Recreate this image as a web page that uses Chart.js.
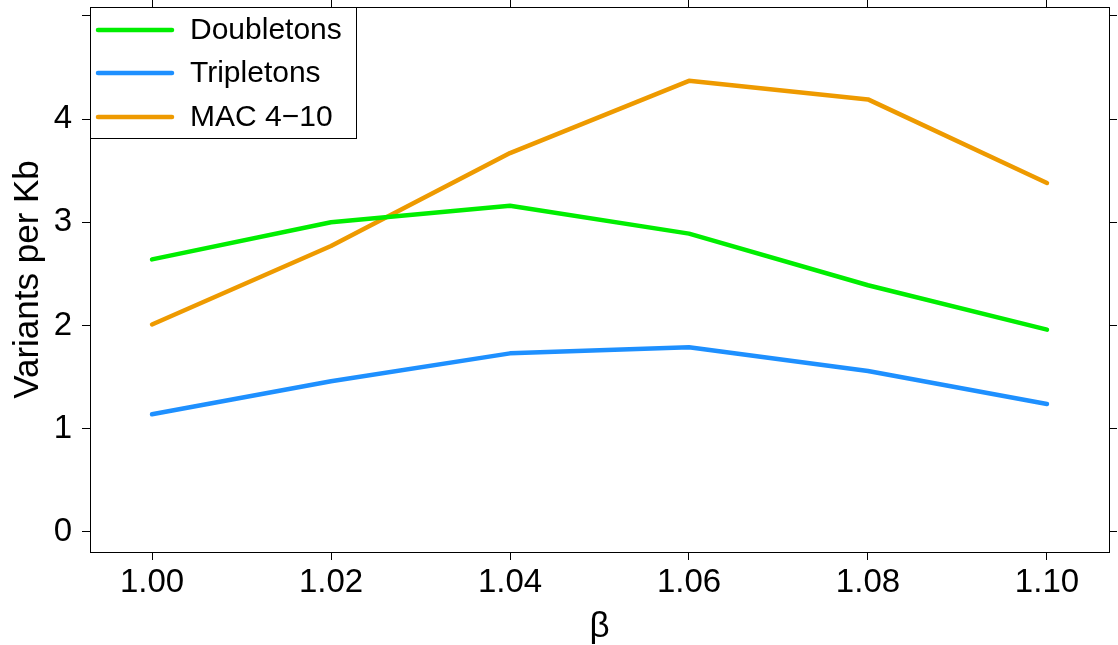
<!DOCTYPE html>
<html>
<head>
<meta charset="utf-8">
<script src="https://cdn.jsdelivr.net/npm/chart.js@4"></script>
<style>
  html, body { margin: 0; padding: 0; background: #fff; }
  #wrap { width: 1118px; height: 645px; }
</style>
</head>
<body>
<div id="wrap"><canvas id="chart" width="1118" height="645"></canvas></div>
<script>
// values
const betaValues = [1.00, 1.02, 1.04, 1.06, 1.08, 1.10];
const doubletons = [2.64, 3.00, 3.16, 2.89, 2.39, 1.96];
const tripletons = [1.14, 1.46, 1.73, 1.79, 1.56, 1.24];
const mac4to10 = [2.01, 2.77, 3.67, 4.37, 4.19, 3.38];
const yTickValues = [0, 1, 2, 3, 4, 5];
const yLabelled = [0, 1, 2, 3, 4];
const seriesNames = ["Doubletons", "Tripletons", "MAC 4\u221210"];
const seriesColors = ["#00EE00", "#1E90FF", "#EE9A00"];

const FONT = "'Liberation Sans', Arial, Helvetica, sans-serif";

function toPoints(values) {
  return betaValues.map((b, i) => ({ x: b, y: values[i] }));
}

function fixTicks(values) {
  return (scale) => {
    scale.ticks = values.map((v) => ({ value: v }));
  };
}

// fixed box sizes so the plot area lands where the reference has it
function fixSize(w, h) {
  return (s) => {
    if (w !== null) s.width = w;
    if (h !== null) s.height = h;
    s.paddingTop = 0;
    s.paddingBottom = 0;
    s.paddingLeft = 0;
    s.paddingRight = 0;
  };
}

// draws the boxed legend in the top-left corner of the plot
const boxLegend = {
  id: "boxLegend",
  afterDraw(chart) {
    const ctx = chart.ctx;
    const area = chart.chartArea;
    const rowY = [30, 73, 117];
    ctx.save();
    ctx.fillStyle = "#fff";
    ctx.fillRect(area.left, area.top, 266, 132);
    ctx.strokeStyle = "#000";
    ctx.lineWidth = 1;
    ctx.strokeRect(area.left + 0.5, area.top + 0.5, 266, 131);
    ctx.font = "30px " + FONT;
    ctx.textBaseline = "middle";
    ctx.textAlign = "left";
    chart.data.datasets.forEach((ds, i) => {
      ctx.strokeStyle = ds.borderColor;
      ctx.lineWidth = 4.5;
      ctx.lineCap = "round";
      ctx.beginPath();
      ctx.moveTo(area.left + 8, rowY[i]);
      ctx.lineTo(area.left + 82, rowY[i]);
      ctx.stroke();
      ctx.fillStyle = "#000";
      ctx.fillText(ds.label, area.left + 100, rowY[i] + 1);
    });
    ctx.restore();
  },
};

const xRange = { min: 0.99307, max: 1.10693 };
const yRange = { min: -0.194, max: 5.085 };

const chart = new Chart(document.getElementById("chart").getContext("2d"), {
  type: "line",
  data: {
    datasets: [doubletons, tripletons, mac4to10].map((vals, i) => ({
      label: seriesNames[i],
      data: toPoints(vals),
      borderColor: seriesColors[i],
      backgroundColor: seriesColors[i],
      borderWidth: 4.5,
      borderCapStyle: "round",
      borderJoinStyle: "round",
      pointRadius: 0,
      tension: 0,
      fill: false,
    })),
  },
  plugins: [boxLegend],
  options: {
    responsive: false,
    animation: false,
    devicePixelRatio: 1,
    layout: { padding: 0 },
    plugins: {
      legend: { display: false },
      tooltip: { enabled: false },
    },
    scales: {
      x: {
        type: "linear",
        position: "bottom",
        min: xRange.min,
        max: xRange.max,
        afterBuildTicks: fixTicks(betaValues),
        afterFit: fixSize(null, 93),
        border: { display: true, color: "#000", width: 1 },
        grid: { drawOnChartArea: false, drawTicks: true, tickLength: 8, color: "#000" },
        ticks: {
          color: "#000",
          font: { family: FONT, size: 33 },
          padding: 3,
          maxRotation: 0,
          autoSkip: false,
          callback: (v) => Number(v).toFixed(2),
        },
        title: {
          display: true,
          text: "\u03B2",
          color: "#000",
          font: { family: FONT, size: 35, lineHeight: 1.0 },
          padding: { top: 0, bottom: 0 },
        },
      },
      xTop: {
        type: "linear",
        position: "top",
        min: xRange.min,
        max: xRange.max,
        afterBuildTicks: fixTicks(betaValues),
        afterFit: fixSize(null, 7),
        border: { display: true, color: "#000", width: 1 },
        grid: { drawOnChartArea: false, drawTicks: true, tickLength: 8, color: "#000" },
        ticks: { display: false },
      },
      y: {
        type: "linear",
        position: "left",
        min: yRange.min,
        max: yRange.max,
        afterBuildTicks: fixTicks(yTickValues),
        afterFit: fixSize(90, null),
        border: { display: true, color: "#000", width: 1 },
        grid: { drawOnChartArea: false, drawTicks: true, tickLength: 8, color: "#000" },
        ticks: {
          color: "#000",
          font: { family: FONT, size: 33 },
          padding: 10,
          callback: (v) => (yLabelled.includes(v) ? String(v) : ""),
        },
        title: {
          display: true,
          text: "Variants per Kb",
          color: "#000",
          font: { family: FONT, size: 35 },
          padding: { top: 7, bottom: 0 },
        },
      },
      yRight: {
        type: "linear",
        position: "right",
        min: yRange.min,
        max: yRange.max,
        afterBuildTicks: fixTicks(yTickValues),
        afterFit: fixSize(9, null),
        border: { display: true, color: "#000", width: 1 },
        grid: { drawOnChartArea: false, drawTicks: true, tickLength: 8, color: "#000" },
        ticks: { display: false },
      },
    },
  },
});
</script>
</body>
</html>
